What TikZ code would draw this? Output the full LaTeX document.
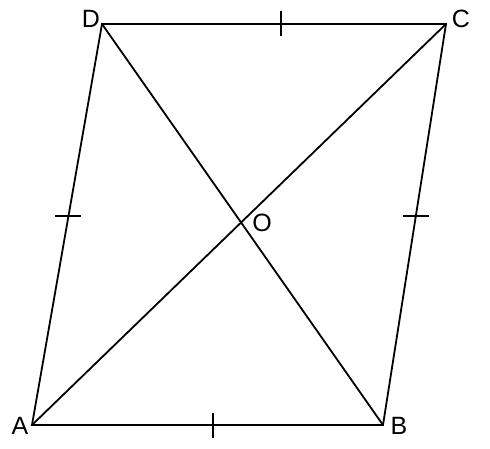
\documentclass[tikz,border=0pt]{standalone}
\usepackage{fontspec}
\setmainfont{Liberation Sans}
\usetikzlibrary{calc}

\tikzset{
    side/.style={line width=1.8pt},
    tick/.style={line width=1.8pt},
    vertex/.style={inner sep=0pt, font=\fontsize{25}{30}\selectfont}
}

\begin{document}
\begin{tikzpicture}[x=1pt,y=-1pt]
        \useasboundingbox (0,0) rectangle (490,449);

        % corners
        \coordinate (A) at (32,425);
        \coordinate (B) at (383,425);
        \coordinate (C) at (446,24);
        \coordinate (D) at (102,24);
        \coordinate (O) at (intersection of A--C and B--D);

        % sides
        \draw[side] (A) -- (B) -- (C) -- (D) -- cycle;

        % diagonals
        \draw[side] (A) -- (C);
        \draw[side] (B) -- (D);

        % equal marks
        \coordinate (ab) at ($(A)!0.516!(B)$);
        \coordinate (dc) at ($(D)!0.52!(C)$);
        \coordinate (ad) at ($(A)!0.521!(D)$);
        \coordinate (bc) at ($(B)!0.521!(C)$);
        \draw[tick] ($(ab)+(0,-12.5)$) -- ($(ab)+(0,12.5)$);
        \draw[tick] ($(dc)+(0,-12.5)$) -- ($(dc)+(0,12.5)$);
        \draw[tick] ($(ad)+(-13,0)$) -- ($(ad)+(13,0)$);
        \draw[tick] ($(bc)+(-13,0)$) -- ($(bc)+(13,0)$);

        % labels
        \node[vertex] (labelA) at ($(A)+(-12,1)$) {A};
        \node[vertex] (labelB) at ($(B)+(16,1)$) {B};
        \node[vertex] (labelC) at ($(C)+(15,-5)$) {C};
        \node[vertex] (labelD) at ($(D)+(-11,-5)$) {D};
        \node[vertex] (labelO) at ($(O)+(21,0)$) {O};
    \end{tikzpicture}
\end{document}
